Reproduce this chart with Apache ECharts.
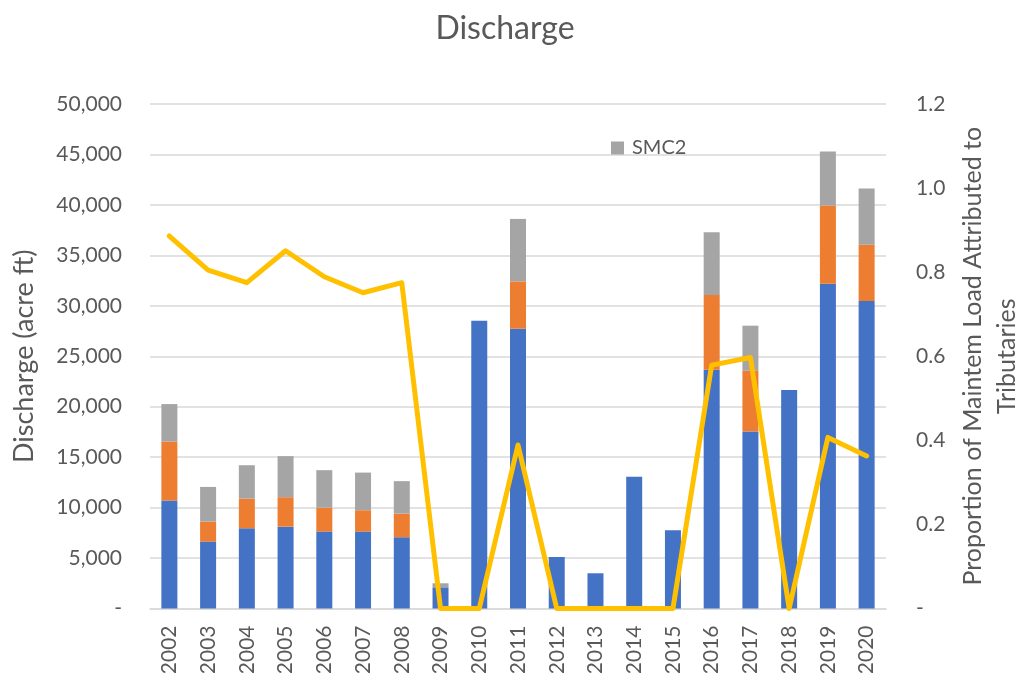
<!DOCTYPE html>
<html>
<head>
<meta charset="utf-8">
<script src="https://cdn.jsdelivr.net/npm/echarts@6/dist/echarts.min.js"></script>
<style>
  html, body { margin: 0; padding: 0; background: #fff; }
  #chart { width: 1017px; height: 673px; }
</style>
</head>
<body>
<div id="chart"></div>
<script>
// Years on the category axis
const years = ['2002','2003','2004','2005','2006','2007','2008','2009','2010','2011',
               '2012','2013','2014','2015','2016','2017','2018','2019','2020'];

// Discharge (acre ft) per tributary, stacked
const smc0 = [10700, 6630, 7950, 8110, 7620, 7620, 7060, 2100, 28520, 27730,
              5110, 3490, 13050, 7760, 23660, 17540, 21650, 32190, 30480];
const smc1 = [5850, 1980, 2940, 2920, 2380, 2120, 2340, 0, 0, 4690,
              0, 0, 0, 0, 7410, 6020, 0, 7740, 5580];
const smc2 = [3710, 3440, 3310, 4070, 3710, 3730, 3220, 400, 0, 6190,
              0, 0, 0, 0, 6210, 4470, 0, 5360, 5560];

// Proportion of mainstem load attributed to tributaries
const proportion = [0.886, 0.805, 0.775, 0.851, 0.789, 0.751, 0.775, 0, 0, 0.389,
                    0, 0, 0, 0, 0.579, 0.597, 0, 0.407, 0.363];

const FONT = 'Lato';
const TXT = '#595959';

const chart = echarts.init(document.getElementById('chart'));
chart.setOption({
  animation: false,
  textStyle: { fontFamily: FONT, color: TXT },
  title: {
    text: 'Discharge',
    left: 500,
    top: 8,
    textAlign: 'center',
    textStyle: { fontFamily: FONT, fontSize: 32, fontWeight: 'normal', color: TXT }
  },
  legend: {
    data: ['SMC2'],
    left: 606,
    top: 133,
    icon: 'rect',
    itemWidth: 13,
    itemHeight: 13,
    itemGap: 10,
    textStyle: { fontFamily: FONT, fontSize: 20, color: TXT, padding: [0, 0, 0, 3] }
  },
  grid: { left: 150, right: 131, top: 104, bottom: 64.5, containLabel: false, outerBoundsMode: 'none' },
  xAxis: {
    type: 'category',
    data: years,
    axisLine: { lineStyle: { color: '#D9D9D9', width: 1.5 } },
    axisTick: { show: false },
    axisLabel: { rotate: 90, margin: 17, fontFamily: FONT, fontSize: 21, color: TXT }
  },
  yAxis: [
    {
      type: 'value',
      min: 0, max: 50000, interval: 5000,
      name: 'Discharge (acre ft)',
      nameLocation: 'middle',
      nameGap: 112,
      nameTextStyle: { fontFamily: FONT, fontSize: 27, color: TXT },
      axisLine: { show: false },
      axisTick: { show: false },
      splitLine: { lineStyle: { color: '#D9D9D9', width: 1.5 } },
      axisLabel: {
        margin: 28, fontFamily: FONT, fontSize: 21, color: TXT,
        formatter: v => v === 0 ? '-' : v.toLocaleString('en-US')
      }
    },
    {
      type: 'value',
      min: 0, max: 1.2, interval: 0.2,
      name: 'Proportion of Maintem Load Attributed to\nTributaries',
      nameLocation: 'middle',
      nameGap: 66,
      nameTextStyle: { fontFamily: FONT, fontSize: 25, color: TXT, lineHeight: 34, align: 'center' },
      axisLine: { show: false },
      axisTick: { show: false },
      splitLine: { show: false },
      axisLabel: {
        margin: 30, fontFamily: FONT, fontSize: 21, color: TXT,
        formatter: v => v === 0 ? '-' : v.toFixed(1)
      }
    }
  ],
  series: [
    { name: 'SMC', type: 'bar', stack: 'q', data: smc0, barWidth: 16,
      itemStyle: { color: '#4472C4' } },
    { name: 'SMC1', type: 'bar', stack: 'q', data: smc1, barWidth: 16,
      itemStyle: { color: '#ED7D31' } },
    { name: 'SMC2', type: 'bar', stack: 'q', data: smc2, barWidth: 16,
      itemStyle: { color: '#A5A5A5' } },
    { name: 'Proportion', type: 'line', yAxisIndex: 1, data: proportion,
      symbol: 'none', z: 5,
      lineStyle: { color: '#FFC000', width: 5, cap: 'round', join: 'round' } }
  ]
});
</script>
</body>
</html>
